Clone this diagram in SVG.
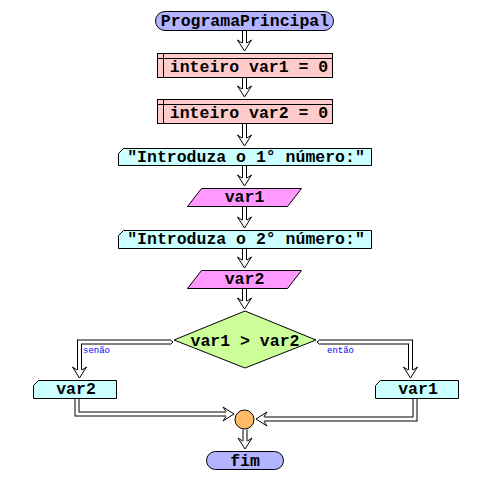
<svg xmlns="http://www.w3.org/2000/svg" xmlns:xlink="http://www.w3.org/1999/xlink" width="493" height="483" viewBox="0 0 493 483">
<style>
  .t{font-family:"Liberation Mono","Courier New",monospace;font-weight:bold;font-size:16.5px;fill:#000;text-anchor:middle}
  .lbl{font-family:"Liberation Mono","DejaVu Sans Mono",monospace;font-size:9px;fill:#0000ff}
  .term{fill:#b3b3ff;stroke:#000;stroke-width:1}
  .decl{fill:#ffcccc;stroke:#000;stroke-width:1}
  .out{fill:#ccffff;stroke:#000;stroke-width:1}
  .inp{fill:#ff99ff;stroke:#000;stroke-width:1}
  .dec{fill:#ccff99;stroke:#000;stroke-width:1}
  .join{fill:#ffbb66;stroke:#000;stroke-width:1}
  .sb{fill:none;stroke:#000;stroke-width:5;stroke-linejoin:miter}
  .sw{fill:none;stroke:#fff;stroke-width:3;stroke-linejoin:miter}
  .thin{fill:none;stroke:#000;stroke-width:1}
</style>
<defs>
  <path id="head" d="M-2.5,-8 L-7,-11 L0,0 L7,-11 L2.5,-8" fill="#fff" stroke="#000" stroke-width="1"/>
</defs>
<rect width="493" height="483" fill="#fff"/>

<g id="connectors">
  <!-- straight vertical connectors -->
  <g id="c1"><path class="sb" d="M244.5,30.5 V43"/><path class="sw" d="M244.5,30 V43.5"/><use xlink:href="#head" x="244.5" y="51"/></g>
  <g id="c2"><path class="sb" d="M244.5,77.5 V89"/><path class="sw" d="M244.5,77 V89.5"/><use xlink:href="#head" x="244.5" y="97"/></g>
  <g id="c3"><path class="sb" d="M244.5,123.5 V138"/><path class="sw" d="M244.5,123 V138.5"/><use xlink:href="#head" x="244.5" y="146"/></g>
  <g id="c4"><path class="sb" d="M244.5,165.5 V178"/><path class="sw" d="M244.5,165 V178.5"/><use xlink:href="#head" x="244.5" y="186"/></g>
  <g id="c5"><path class="sb" d="M244.5,206.5 V220"/><path class="sw" d="M244.5,206 V220.5"/><use xlink:href="#head" x="244.5" y="228"/></g>
  <g id="c6"><path class="sb" d="M244.5,248.5 V260"/><path class="sw" d="M244.5,248 V260.5"/><use xlink:href="#head" x="244.5" y="268"/></g>
  <g id="c7"><path class="sb" d="M244.5,288.5 V301"/><path class="sw" d="M244.5,288 V301.5"/><use xlink:href="#head" x="244.5" y="309"/></g>
  <!-- decision left (senão) -->
  <g id="c8">
    <path class="sb" d="M170,342 H79.5 V370"/>
    <path class="sw" d="M170.5,342 H79.5 V370.5"/>
    <path class="thin" d="M170,339.5 L173,342 L170,344.5"/>
    <use xlink:href="#head" x="79.5" y="378"/>
    <text class="lbl" x="83" y="353">senão</text>
  </g>
  <!-- decision right (então) -->
  <g id="c9">
    <path class="sb" d="M320,342 H410.5 V370"/>
    <path class="sw" d="M319.5,342 H410.5 V370.5"/>
    <path class="thin" d="M320,339.5 L317,342 L320,344.5"/>
    <use xlink:href="#head" x="410.5" y="378"/>
    <text class="lbl" x="327" y="353">então</text>
  </g>
  <!-- var2 to join -->
  <g id="c10">
    <path class="sb" d="M77,398.5 V414 H226"/>
    <path class="sw" d="M77,398 V414 H226.5"/>
    <use xlink:href="#head" transform="translate(234,414) rotate(-90)"/>
  </g>
  <!-- var1 to join -->
  <g id="c11">
    <path class="sb" d="M415,398.5 V419 H264"/>
    <path class="sw" d="M415,398 V419 H263.5"/>
    <use xlink:href="#head" transform="translate(256,419) rotate(90)"/>
  </g>
  <!-- join to fim -->
  <g id="c12"><path class="sb" d="M245,429.5 V441"/><path class="sw" d="M245,429 V441.5"/><use xlink:href="#head" x="245" y="449"/></g>
</g>

<g id="start">
  <rect class="term" x="155.5" y="11.5" width="178" height="19" rx="9.5"/>
  <text class="t" x="245" y="26">ProgramaPrincipal</text>
</g>

<g id="decl1">
  <rect class="decl" x="157.5" y="53.5" width="175" height="24"/>
  <path class="thin" d="M157.5,58.5 H332.5 M163.5,53.5 V77.5"/>
  <text class="t" x="249" y="72">inteiro var1 = 0</text>
</g>

<g id="decl2">
  <rect class="decl" x="157.5" y="99.5" width="175" height="24"/>
  <path class="thin" d="M157.5,104.5 H332.5 M163.5,99.5 V123.5"/>
  <text class="t" x="249" y="118">inteiro var2 = 0</text>
</g>

<g id="out1">
  <path class="out" d="M118.5,153.5 L123.5,148.5 H371.5 V165.5 H118.5 Z"/>
  <text class="t" x="246" y="161.5">"Introduza o 1° número:"</text>
</g>

<g id="in1">
  <path class="inp" d="M201.5,188.5 H301.5 L287.5,206.5 H187.5 Z"/>
  <text class="t" x="244.5" y="202">var1</text>
</g>

<g id="out2">
  <path class="out" d="M118.5,235.5 L123.5,230.5 H371.5 V248.5 H118.5 Z"/>
  <text class="t" x="246" y="243.5">"Introduza o 2° número:"</text>
</g>

<g id="in2">
  <path class="inp" d="M201.5,270.5 H301.5 L287.5,288.5 H187.5 Z"/>
  <text class="t" x="244.5" y="284">var2</text>
</g>

<g id="decision">
  <path class="dec" d="M245,311 L316,340 L245,368 L174,340 Z"/>
  <text class="t" x="245" y="345.5">var1 &gt; var2</text>
</g>

<g id="outVar2">
  <path class="out" d="M33.5,385.5 L38.5,380.5 H116.5 V398.5 H33.5 Z"/>
  <text class="t" x="76" y="394">var2</text>
</g>

<g id="outVar1">
  <path class="out" d="M375.5,385.5 L380.5,380.5 H458.5 V398.5 H375.5 Z"/>
  <text class="t" x="418" y="394">var1</text>
</g>

<g id="join">
  <circle class="join" cx="244.5" cy="419.5" r="9.5"/>
</g>

<g id="end">
  <rect class="term" x="206.5" y="451.5" width="77" height="18" rx="9"/>
  <text class="t" x="245" y="465.5">fim</text>
</g>
</svg>
